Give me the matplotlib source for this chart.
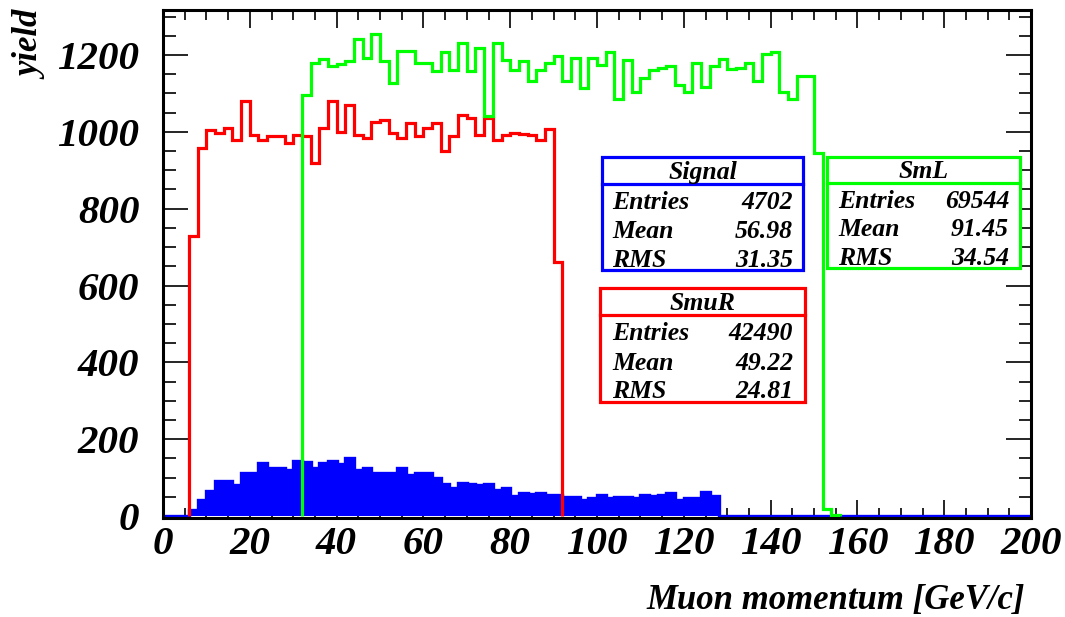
import numpy as np
import matplotlib
matplotlib.use("Agg")
import matplotlib.pyplot as plt
from matplotlib.patches import Rectangle
from matplotlib.lines import Line2D
from matplotlib.ticker import MultipleLocator

# ---- histogram contents (2 GeV/c bins) ----
bin_width = 2.0
x_range = (0, 200)

# SmuR: first filled bin starts at 6 GeV/c
smur_start = 6
smur_yield = [728, 958, 1006, 997, 1011, 978, 1080, 993, 978, 989, 989, 970,
              993, 989, 919, 1011, 1080, 1000, 1071, 993, 983, 1026, 1030, 998,
              984, 1024, 989, 1009, 1022, 950, 989, 1044, 1035, 993, 1035, 978,
              993, 998, 994, 993, 978, 1007, 660]

# SmL: first filled bin starts at 32 GeV/c
sml_start = 32
sml_yield = [1096, 1178, 1189, 1170, 1176, 1185, 1241, 1193, 1255, 1184, 1126,
             1211, 1211, 1178, 1178, 1157, 1209, 1161, 1231, 1157, 1217, 1042,
             1231, 1187, 1161, 1183, 1132, 1161, 1178, 1198, 1132, 1191, 1113,
             1193, 1174, 1209, 1085, 1187, 1104, 1139, 1161, 1165, 1170, 1122,
             1104, 1178, 1116, 1170, 1189, 1163, 1167, 1178, 1131, 1203, 1209,
             1104, 1085, 1144, 1146, 944, 18, 4]

# Signal: first filled bin starts at 6 GeV/c
signal_start = 6
signal_yield = [15, 42, 64, 92, 92, 80, 111, 111, 138, 125, 125, 120, 144, 141,
                126, 139, 144, 135, 152, 120, 125, 112, 112, 112, 125, 107, 112,
                112, 100, 83, 74, 87, 83, 80, 83, 68, 73, 51, 60, 57, 60, 55, 55,
                50, 50, 43, 47, 55, 47, 50, 50, 47, 55, 51, 55, 60, 42, 46, 46,
                62, 51]

# statistics boxes
stat_titles = ["Signal", "SmuR", "SmL"]
stat_entries = ["4702", "42490", "69544"]
stat_means = ["56.98", "49.22", "91.45"]
stat_rms = ["31.35", "24.81", "34.54"]

x_title = "Muon momentum [GeV/c]"
y_title = "yield"

RED = "#ff0000"
GREEN = "#00ff00"
BLUE = "#0000ff"

W, H = 1065, 617
fig = plt.figure(figsize=(W / 100, H / 100), dpi=100)
fig.patch.set_facecolor("white")

font = dict(family="Liberation Serif", weight="bold", style="italic")

ax_l, ax_r, ax_t, ax_b = 163, 1031, 10, 518
ax = fig.add_axes([ax_l / W, 1 - ax_b / H, (ax_r - ax_l) / W, (ax_b - ax_t) / H])
ax.set_axisbelow(True)


def edges_for(start, values):
    return start + bin_width * np.arange(len(values) + 1)


# signal: filled histogram over the full range
n_bins = int((x_range[1] - x_range[0]) / bin_width)
full_edges = x_range[0] + bin_width * np.arange(n_bins + 1)
signal_full = np.zeros(n_bins)
i0 = int((signal_start - x_range[0]) / bin_width)
signal_full[i0:i0 + len(signal_yield)] = signal_yield
ax.stairs(signal_full, full_edges, fill=True, color=BLUE, zorder=1.2)
ax.stairs(signal_full, full_edges, baseline=None, color=BLUE, lw=2.4, zorder=1.3)

ax.stairs(smur_yield, edges_for(smur_start, smur_yield), baseline=0,
          color=RED, lw=2.3, zorder=2)
ax.stairs(sml_yield, edges_for(sml_start, sml_yield), baseline=0,
          color=GREEN, lw=2.3, zorder=2)

ax.set_xlim(*x_range)
ax.set_ylim(-5, 1317)

ax.xaxis.set_major_locator(MultipleLocator(20))
ax.xaxis.set_minor_locator(MultipleLocator(5))
ax.yaxis.set_major_locator(MultipleLocator(200))
ax.yaxis.set_minor_locator(MultipleLocator(50))
ax.tick_params(axis="both", which="both", direction="in", top=True, right=True,
               colors="black", width=1.2)
ax.tick_params(axis="x", which="major", length=13, pad=6)
ax.tick_params(axis="x", which="minor", length=7)
ax.tick_params(axis="y", which="major", length=18, pad=17)
ax.tick_params(axis="y", which="minor", length=9)
for lab in ax.get_xticklabels() + ax.get_yticklabels():
    lab.set_fontproperties(matplotlib.font_manager.FontProperties(size=29.5, **font))
for sp in ax.spines.values():
    sp.set_linewidth(2.2)
    sp.set_zorder(3)

fig.text(32 / W, 1 - 12 / H, y_title, rotation=90, ha="center", va="top",
         fontsize=25, **font)
fig.text(1025 / W, 1 - 601 / H, x_title, ha="right", va="center",
         fontsize=25, **font)


def fx(px):
    return px / W


def fy(py):
    return 1 - py / H


def stat_box(left, right, top, bottom, sep, color, title, rows, lab_x, val_x):
    fig.add_artist(Rectangle((fx(left), fy(bottom)), fx(right) - fx(left),
                             fy(top) - fy(bottom), transform=fig.transFigure,
                             facecolor="white", edgecolor=color, lw=2.3, zorder=5))
    fig.add_artist(Line2D([fx(left), fx(right)], [fy(sep), fy(sep)],
                          transform=fig.transFigure, color=color, lw=2.3, zorder=6))
    fig.text(fx((left + right) / 2), fy((top + sep) / 2 + 1.5), title, ha="center",
             va="center", fontsize=18.5, zorder=7, **font)
    row_h = (bottom - sep) / 3.0
    for k, (lab, val) in enumerate(rows):
        yc = sep + row_h * (k + 0.5) + 4.5
        fig.text(fx(lab_x), fy(yc), lab, ha="left", va="center", fontsize=18.5,
                 zorder=7, **font)
        fig.text(fx(val_x), fy(yc), val, ha="right", va="center", fontsize=18.5,
                 zorder=7, **font)


def rows_for(i):
    return [("Entries", stat_entries[i]), ("Mean", stat_means[i]), ("RMS", stat_rms[i])]


stat_box(602, 803, 157, 270, 184, BLUE, stat_titles[0], rows_for(0), 612, 793)
stat_box(600, 805, 288, 402, 315, RED, stat_titles[1], rows_for(1), 612, 793)
stat_box(827, 1020, 157, 268, 183, GREEN, stat_titles[2], rows_for(2), 838, 1009)

fig.savefig("out.png", dpi=100, facecolor="white")
